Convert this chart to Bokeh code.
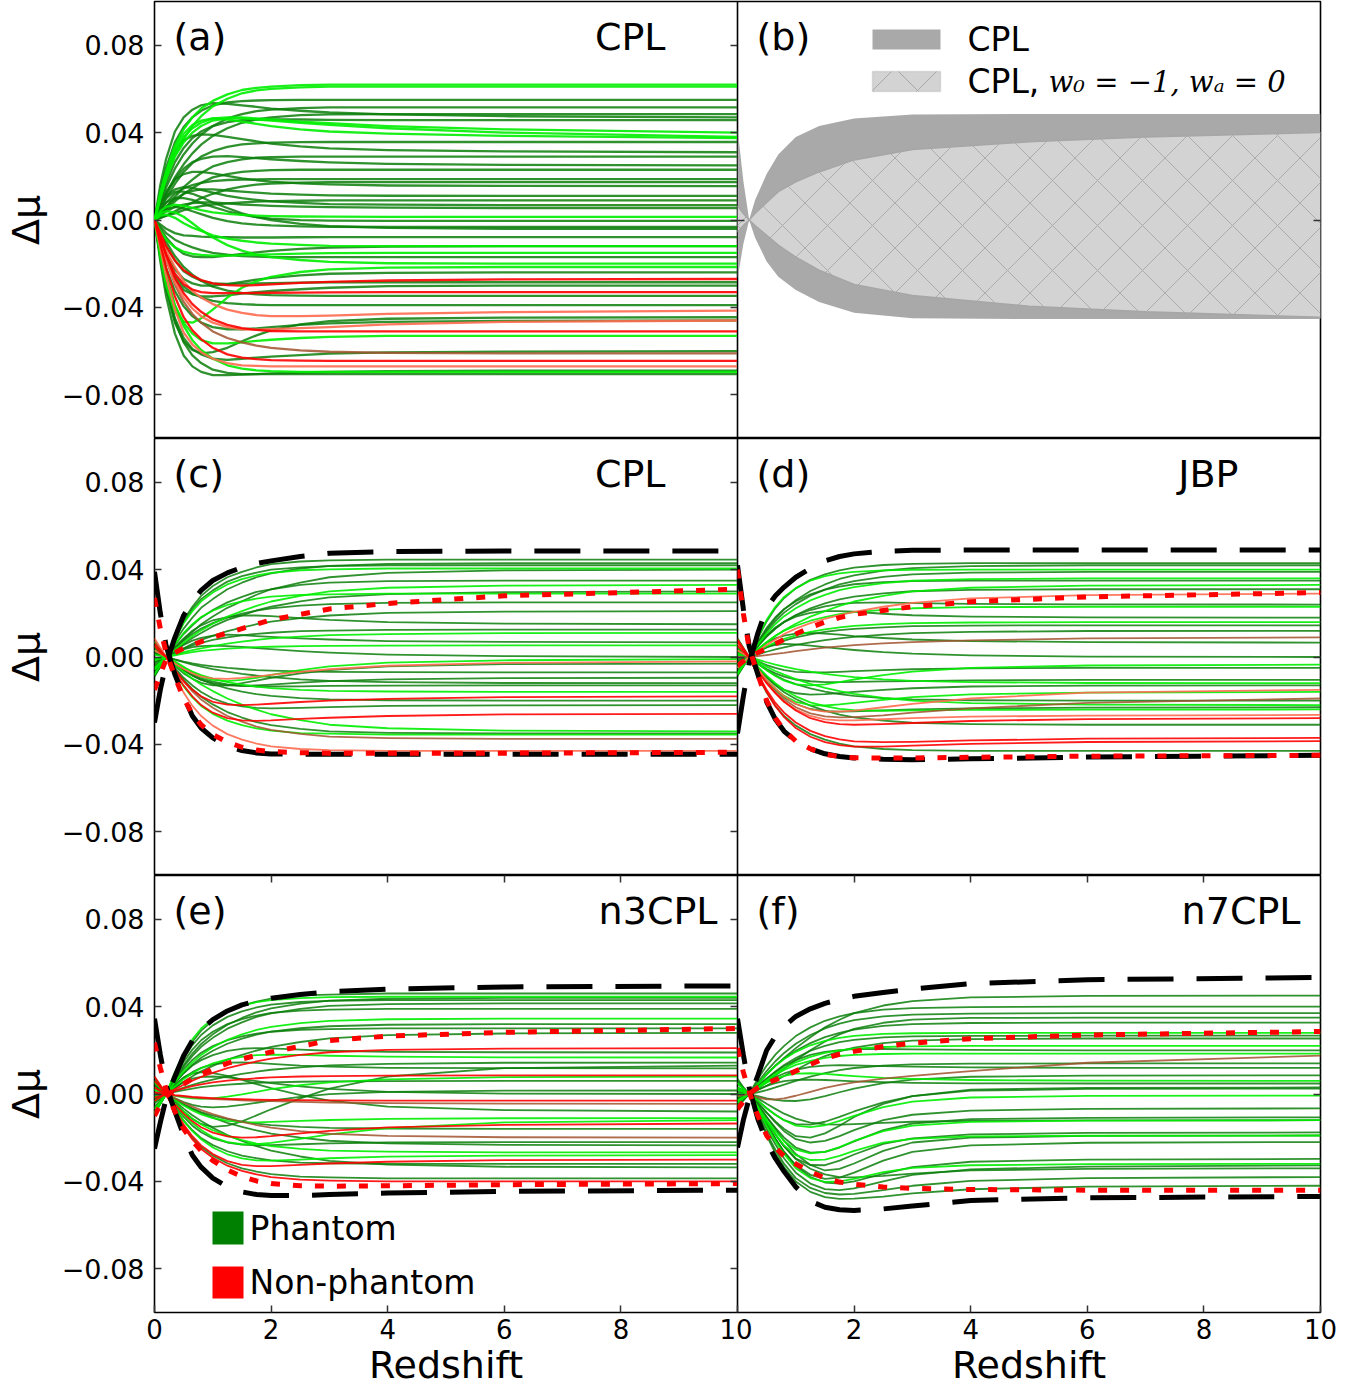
from bokeh.plotting import figure
from bokeh.models import Range1d, LinearAxis, FixedTicker, Label, BoxAnnotation
from bokeh.layouts import column, row
from bokeh.embed import file_html
from bokeh.resources import INLINE

# ---------------------------------------------------------------- data
# redshift sample points of every curve; values are Delta mu in units of 0.001
Z = [0, 0.1, 0.2, 0.35, 0.5, 0.65, 0.8, 1.0, 1.25, 1.5, 1.75, 2.0, 2.5, 3.0, 4.0, 6.0, 10.0]
ZB = [0, 0.1, 0.2, 0.3, 0.5, 0.7, 1.0, 1.4, 2.0, 3.0, 5.0, 7.0, 10.0]

X_TICKS = [0, 2, 4, 6, 8, 10]
Y_TICKS = [-80, -40, 0, 40, 80]
Y_TICK_LABELS = ["\u22120.08", "\u22120.04", "0.00", "0.04", "0.08"]

# panel (a) CPL
PA_LIGHT = [
    [0, 12.5, 22, 34, 41.5, 47, 51, 54.5, 57.5, 59.5, 60.5, 61, 61.7, 62, 62, 62, 62],
    [0, 10, 19, 29.5, 37, 43, 47.5, 52, 55.5, 58, 59.3, 60, 60.7, 61, 61, 61, 61],
    [0, 10, 19, 29, 35.5, 40, 43, 45.5, 46.5, 46.5, 46, 45.5, 44.5, 43.5, 42, 40, 38],
    [0, 11, 21, 31.5, 38, 42, 44.5, 46.5, 47, 47, 46.5, 46, 45, 44.3, 43, 41.5, 40],
    [0, 12, 22, 33, 39.5, 43.5, 45.5, 46.5, 46, 45, 44, 43, 41.5, 40.5, 39.5, 38.5, 37.5],
    [0, 4, 6, 7, 6.5, 5.5, 4.5, 3.5, 2.8, 2.3, 2, 1.8, 1.6, 1.5, 1.4, 1.4, 1.4],
    [0, 2, 2.5, 1, -1.5, -3.5, -5, -7, -8.5, -9.5, -10.3, -10.8, -11.4, -11.8, -12, -12, -12],
    [0, -5, -9, -12.5, -14.5, -15.5, -16, -16.3, -16.3, -16.1, -15.9, -15.7, -15.4, -15.2, -15, -15, -15],
    [0, 3, 4, 3.5, 1.5, -1.5, -4.5, -8, -11.5, -14, -15.8, -17, -18.3, -19.2, -19.8, -20, -20],
    [0, -17, -30, -42, -46.5, -47, -45, -41, -35.5, -31, -28, -26, -23.8, -22.6, -21.8, -21.5, -21.5],
    [0, -14, -26, -39, -47, -52, -55, -56.5, -56.5, -56, -55.3, -54.8, -54, -53.5, -53, -53, -53],
    [0, -13, -25, -39, -48.5, -55, -59.5, -63.5, -66.5, -68, -68.8, -69.2, -69.5, -69.5, -69.5, -69.5, -69.5],
]
PA_DARK = [
    [0, 13, 24, 35.5, 42.5, 47, 50, 52.5, 53.8, 54.4, 54.7, 54.9, 55, 55, 55, 55, 55],
    [0, 16, 28, 40.5, 47, 50.5, 52.5, 53.5, 53.2, 52.5, 51.8, 51, 50, 49.2, 48.3, 47.5, 47],
    [0, 8, 15, 23.5, 30, 35, 39, 43, 46.5, 48.5, 49.8, 50.5, 51.2, 51.5, 51.5, 51.5, 51.5],
    [0, 6, 12, 19.5, 25.5, 30.5, 34.5, 38.5, 42, 44.5, 46, 47, 48, 48.3, 48.5, 48.5, 48.5],
    [0, 9, 17, 26.5, 33, 37.5, 40.5, 43, 44.8, 45.7, 46, 46, 46, 45.8, 45.7, 45.7, 45.7],
    [0, 5, 10, 16.5, 22, 26, 29, 31.5, 33.5, 34.6, 35.1, 35.4, 35.6, 35.7, 35.7, 35.7, 35.7],
    [0, 12, 22, 31.5, 36.5, 38.5, 39.2, 39, 38, 37, 36, 35, 33.7, 32.8, 32, 31.4, 31],
    [0, 3, 6, 10.5, 15, 18.5, 21.5, 24.5, 26.5, 27.8, 28.5, 28.8, 29, 29, 29, 29, 29],
    [0, 6, 12, 18.5, 23.5, 26.5, 28, 29, 29.2, 28.8, 28.3, 27.8, 27, 26.4, 25.7, 25.2, 25],
    [0, 2, 5, 8.5, 12, 14.5, 17, 19.5, 21, 22, 22.5, 22.8, 23, 23, 23, 23, 23],
    [0, 4, 8, 12, 14.5, 16, 17, 17.8, 18.3, 18.5, 18.6, 18.7, 18.7, 18.7, 18.7, 18.7, 18.7],
    [0, 1, 2, 4, 6, 8, 10, 12, 14, 15.3, 16.2, 16.7, 17.1, 17.3, 17.3, 17.3, 17.3],
    [0, 7, 13, 18.5, 21, 22, 22, 21.3, 20.2, 19, 18.2, 17.6, 16.8, 16.3, 15.8, 15.6, 15.5],
    [0, 3, 6, 9.5, 12, 13.3, 14, 14, 13.5, 13, 12.5, 12.1, 11.6, 11.3, 11.1, 11, 11],
    [0, 1, 2, 3, 4.5, 5.5, 6.3, 7, 7.6, 8, 8.4, 8.6, 8.8, 9, 9, 9, 9],
    [0, 7, 11, 14, 15, 14.7, 13.8, 12.5, 11, 10, 9.2, 8.5, 7.8, 7.3, 7, 6.8, 6.8],
    [0, 2, 4, 6, 7, 7.7, 8, 8, 7.6, 7.1, 6.8, 6.5, 6.1, 5.9, 5.7, 5.5, 5.5],
    [0, 5, 8, 10, 10, 9.2, 7.8, 6, 4, 2.5, 1.3, 0.6, -0.1, -0.3, -0.4, -0.4, -0.4],
    [0, 3, 5, 6, 5.3, 4, 2.7, 1, -0.5, -1.5, -2.1, -2.5, -2.9, -3.1, -3.2, -3.2, -3.2],
    [0, 6, 10, 13, 13, 12, 10.5, 8, 5.5, 3, 1.3, 0, -1.8, -2.8, -3.6, -4, -4],
    [0, -2, -4, -6, -7, -7.3, -7.6, -7.8, -7.9, -8, -8, -8, -7.9, -7.8, -7.8, -7.8, -7.8],
    [0, -4, -8, -12.5, -15.5, -16.7, -17, -17, -16.3, -15.5, -14.8, -14.1, -13.2, -12.6, -12.2, -12, -12],
    [0, -3, -6, -9, -11, -12.5, -13.8, -15, -15.9, -16.5, -16.8, -17, -17, -17, -17, -17, -17],
    [0, -8, -15, -22.5, -27, -29, -30, -30, -29.3, -28.3, -27.3, -26.5, -25.3, -24.6, -24.2, -24, -24],
    [0, -6, -12, -18.5, -23.5, -26, -27.8, -29, -29.2, -29.1, -29, -28.9, -28.7, -28.5, -28.5, -28.5, -28.5],
    [0, -10, -18, -27, -32, -34, -35, -35, -34.5, -33.7, -33, -32.5, -31.7, -31, -30.3, -30, -30],
    [0, -5, -10, -16.5, -21.5, -25, -27.8, -30.5, -32.3, -33.4, -34, -34.4, -34.6, -34.7, -34.7, -34.7, -34.7],
    [0, -9, -17, -25.5, -30.5, -33.5, -35.5, -37, -38, -38.5, -38.8, -39, -39, -39, -39, -39, -39],
    [0, -17, -32, -47, -55.5, -59.5, -61, -60.5, -58.5, -55.5, -52.8, -50.5, -47.8, -46.3, -45.2, -44.7, -44.5],
    [0, -12, -22, -32.5, -39.5, -44, -47, -49, -50, -50, -49.6, -49, -48, -47.3, -46.6, -46.2, -46],
    [0, -16, -30, -45, -54, -59, -61.5, -63.5, -64, -63.5, -63, -62.5, -61.8, -61.2, -60.6, -60.2, -60],
    [0, -16, -30, -46, -56, -62, -65.5, -68.5, -70, -70.5, -70.5, -70.5, -70.5, -70.5, -70.5, -70.5, -70.5],
    [0, -19, -35, -52, -62, -67, -69.5, -71, -71, -70.8, -70.5, -70.2, -69.8, -69.5, -69.2, -69, -69],
]
PA_RED = [
    [0, -6, -12, -18.5, -23, -25.5, -27.5, -29, -29.8, -30, -29.8, -29.5, -28.8, -28.3, -27.7, -27.2, -27],
    [0, -8, -16, -24.5, -29.5, -31.8, -33, -33.5, -33.5, -33.5, -33.4, -33.3, -33.2, -33.1, -33, -33, -33],
    [0, -8, -16, -26.5, -33.5, -38.5, -42, -45.5, -48, -49.5, -50.3, -50.8, -51, -51, -51, -51, -51],
    [0, -11, -22, -35, -44.5, -50.5, -54.5, -58.5, -61.5, -63, -63.7, -64.1, -64.4, -64.5, -64.5, -64.5, -64.5],
]
PA_SALMON = [
    [0, -7, -14, -21.5, -28, -32.5, -35.5, -38.5, -41, -42.5, -43.5, -44, -44, -43.8, -43, -42.2, -41.5],
    [0, -13, -26, -41, -51.5, -57, -60.5, -63.5, -65.5, -66.5, -66.8, -67, -67, -67, -67, -67, -67],
    [0, -9, -18, -28.5, -35.5, -40.5, -44, -47, -49, -50, -50.2, -50, -49.5, -49, -47.8, -46.6, -46],
]
PA_BROWN = [
    [0, -9, -18, -29.5, -37.5, -43, -47, -51, -54, -56, -57.5, -58.5, -59.7, -60.3, -60.8, -61, -61],
]

# panel (b) bands
CPL_UP = [-27, -11, 0, 9, 21, 30, 38, 43, 46.5, 48.3, 48.5, 48.5, 48.5]
CPL_LO = [42, 18, 0, -8, -19, -26, -32, -37.5, -42.5, -45, -45.3, -45.3, -45.3]
LCDM_UP = [-5.5, -2.5, 0, 3, 8, 13, 17.5, 22, 27.5, 32.3, 35.8, 38, 40]
LCDM_LO = [6.6, 3, 0, -2.5, -7, -11.5, -17, -23, -29.5, -34.5, -39.5, -42, -44.5]

# panel (c) CPL
PC_DARK = [
    [-9, -4.5, 0, 9, 17, 23, 28, 32.5, 36.5, 39, 41, 42.5, 43.7, 44.2, 44.6, 44.6, 44.6],
    [-8.5, -4.3, 0, 7, 13, 18, 22.5, 26.5, 31, 34, 36.5, 38.3, 40.5, 41.7, 42.6, 43, 43],
    [-8.4, -4.2, 0, 8.5, 16, 22, 26.5, 30.5, 34.5, 37, 38.6, 40, 41, 41.6, 42, 42, 42],
    [-6, -2.8, 0, 4, 8, 11.5, 15, 18.5, 22.5, 25.5, 28.5, 31, 34, 36.5, 38.5, 39.6, 40],
    [-7, -3.5, 0, 5.5, 10.5, 14.5, 18, 21.5, 25, 27.5, 29.8, 31, 33, 34, 34.7, 35, 35],
    [-4.5, -2, 0, 3, 6, 8.7, 11, 14, 17, 19, 21.3, 23, 25.5, 27.3, 28.8, 29.7, 30],
    [-5, -2.5, 0, 4, 7.5, 10.5, 13, 15.5, 18, 19.8, 21.2, 22.3, 23.5, 24.2, 24.8, 25, 25],
    [-3, -1.5, 0, 2, 4, 6, 7.8, 9.7, 11.8, 13.4, 15, 16.2, 17.8, 19, 20.2, 20.8, 21],
    [-4, -2, 0, 4.5, 8.5, 12, 14.5, 16.8, 18.3, 19, 19, 18.7, 17.8, 17, 16, 15.3, 15],
    [-2.5, -1.2, 0, 2, 3.8, 5.3, 6.5, 7.8, 9, 9.9, 10.6, 11.1, 11.8, 12.1, 12.4, 12.5, 12.5],
    [-2, -1, 0, 3, 5.5, 7.5, 8.8, 9.8, 10.2, 10, 9.6, 9.2, 8.5, 8, 7.3, 6.9, 6.7],
    [-1, -0.5, 0, 2, 3.5, 4.5, 5, 5.2, 5, 4.6, 4.1, 3.6, 2.7, 2, 1.1, 0.4, 0],
    [1.4, 0.7, 0, -1.1, -2.1, -2.9, -3.6, -4.3, -5, -5.5, -6, -6.2, -6.6, -6.8, -6.9, -7, -7],
    [3, 1.5, 0, -3, -6, -8.5, -10.5, -12, -13, -13.2, -13, -12.6, -11.7, -11, -10.2, -9.7, -9.5],
    [1.8, 0.8, 0, -1.2, -2.4, -3.5, -4.4, -5.5, -6.7, -7.7, -8.5, -9.2, -10.2, -10.9, -11.5, -11.9, -12],
    [3, 1.5, 0, -3, -5.8, -8, -9.8, -11.3, -12.5, -13.2, -13.5, -13.5, -13.4, -13.2, -13.1, -13, -13],
    [4, 2, 0, -3.2, -6, -8.4, -10.4, -12.4, -14.4, -15.8, -17, -17.8, -18.8, -19.4, -19.8, -20, -20],
    [4.4, 2.2, 0, -5, -9.5, -13, -16, -19, -21.3, -22.6, -23.3, -23.5, -23.3, -22.9, -22.4, -22.1, -22],
    [7, 3.5, 0, -5.6, -10.5, -14.7, -18.2, -21.7, -25.2, -27.7, -29.8, -31.2, -32.9, -34, -34.7, -35, -35],
    [2, 1, 0, -4, -7.5, -10, -11.8, -13, -13, -12, -10.8, -9.5, -7.5, -6, -4.3, -3.3, -3],
]
PC_LIGHT = [
    [-8, -4, 0, 8, 15.4, 21, 25.5, 29.5, 33.2, 35.6, 37.3, 38.5, 39.7, 40.1, 40.5, 40.5, 40.5],
    [-5, -2.3, 0, 3.3, 6.6, 9.6, 12.2, 15.2, 18.5, 21, 23.4, 25.4, 28, 30, 31.7, 32.7, 33],
    [-5.8, -2.9, 0, 5.8, 11, 15, 18.3, 21.2, 23.8, 25.5, 26.7, 27.6, 28.4, 28.7, 29, 29, 29],
    [-1.6, -0.8, 0, 1.1, 2.2, 3.2, 4, 5, 6.1, 7, 7.8, 8.5, 9.3, 10, 10.5, 10.9, 11],
    [-1, -0.5, 0, 0.8, 1.6, 2.2, 2.8, 3.3, 3.8, 4.2, 4.5, 4.7, 5, 5.1, 5.2, 5.3, 5.3],
    [1, 0.5, 0, -2, -4.5, -7, -9, -10.5, -11, -10.5, -9.5, -8.2, -6, -4.3, -2.6, -1.5, -1],
    [5, 2.4, 0, -3.4, -6.8, -9.9, -12.6, -15.6, -19, -21.8, -24.1, -26.2, -28.9, -31, -32.6, -33.7, -34],
    [7, 3.5, 0, -7, -13.5, -18.5, -22.4, -26, -29.1, -31.2, -32.7, -33.7, -34.8, -35.1, -35.5, -35.5, -35.5],
    [3.2, 1.6, 0, -2.6, -4.8, -6.7, -8.3, -9.9, -11.5, -12.6, -13.6, -14.2, -15, -15.5, -15.8, -16, -16],
]
PC_RED = [
    [5, 2, 0, -6, -11, -15, -18, -20.5, -21.8, -22, -21.8, -21.4, -20.6, -20, -19.2, -18.4, -18],
    [6, 3, 0, -7, -13, -18, -22, -25.5, -28, -29, -29.2, -29, -28.3, -27.8, -27, -26.3, -26],
]
PC_SALMON = [
    [3, 1.5, 0, -3, -5.5, -7.5, -9, -9.8, -10, -9.6, -9, -8.2, -6.8, -5.6, -4, -2.7, -2],
    [8.6, 4.3, 0, -8.6, -16.3, -22.4, -27, -31.4, -35.3, -37.8, -39.6, -40.9, -42.1, -42.6, -43, -43, -43],
]
PC_BROWN = [
    [7.5, 3.7, 0, -6, -11.2, -15.7, -19.5, -23.2, -27, -29.6, -31.9, -33.4, -35.2, -36.4, -37.1, -37.5, -37.5],
]
PC_BLACK_UP = [-30, -15, -3, 9, 19, 25.5, 30.5, 35, 38.5, 41, 42.8, 44, 46, 47.5, 48.3, 48.5, 48.5]
PC_BLACK_LO = [39, 20, 5, -8, -18, -27, -32.5, -37, -40.8, -42.8, -43.9, -44.4, -44.5, -44.5, -44.5, -44.5, -44.5]
PC_RED_UP = [-15, -8, -1, 2, 4, 5.5, 7, 9, 11, 13, 15, 17, 19.5, 22, 24.5, 28, 31]
PC_RED_LO = [27, 13, 2, -9, -19, -26, -31, -35.5, -39, -41.3, -42.6, -43.3, -43.8, -44, -44, -44, -43.6]

# panel (d) JBP
PD_DARK = [
    [-8.6, -4.3, 0, 8.6, 16.3, 22.4, 27, 31.4, 35.3, 37.8, 39.6, 40.9, 42.1, 42.6, 43, 43, 43],
    [-8.4, -4.2, 0, 6.7, 12.6, 17.6, 21.8, 26, 30.2, 33.2, 35.7, 37.4, 39.5, 40.7, 41.6, 42, 42],
    [-7.8, -3.9, 0, 6.2, 11.7, 16.4, 20.3, 24.2, 28.1, 30.8, 33.2, 34.7, 36.7, 37.8, 38.6, 39, 39],
    [-7, -3.5, 0, 7, 13.3, 18.2, 22, 25.5, 28.7, 30.8, 32.2, 33.3, 34.3, 34.7, 35, 35, 35],
    [-6.2, -3.1, 0, 5, 9.3, 13, 16.1, 19.2, 22.3, 24.5, 26.4, 27.6, 29.1, 30.1, 30.7, 31, 31],
    [-5, -2.5, 0, 5, 9.5, 13, 16, 19, 21.5, 23.2, 24.2, 24.8, 25, 24.7, 24.3, 24.1, 24],
    [-4, -2, 0, 5.5, 10, 13.5, 16, 18.5, 20.2, 21, 21, 20.7, 19.8, 19.1, 18.5, 18.1, 18],
    [-2.9, -1.5, 0, 2.3, 4.4, 6.1, 7.5, 9, 10.4, 11.5, 12.3, 12.9, 13.6, 14.1, 14.4, 14.5, 14.5],
    [-1.8, -0.8, 0, 1.2, 2.4, 3.5, 4.4, 5.5, 6.7, 7.7, 8.5, 9.2, 10.2, 10.9, 11.5, 11.9, 12],
    [-2, -1, 0, 3.5, 6.5, 8.5, 9.8, 10.7, 11, 10.7, 10.2, 9.6, 8.7, 8, 7.3, 6.8, 6.6],
    [-1, -0.5, 0, 2.5, 4.5, 5.5, 6, 5.8, 5.2, 4.5, 3.8, 3.2, 2.2, 1.5, 0.7, 0.2, 0],
    [1, 0.5, 0, -2, -3.7, -5, -6, -6.8, -7, -7, -6.8, -6.5, -6, -5.6, -5.2, -5, -5],
    [2, 1, 0, -3, -5.5, -7.5, -9, -10.3, -11.1, -11.5, -11.5, -11.4, -11.2, -11, -10.7, -10.5, -10.5],
    [2, 1, 0, -5, -9, -12.5, -15, -16.6, -17.2, -17, -16.5, -16, -15, -14.3, -13.5, -13.1, -13],
    [4, 2, 0, -3.2, -6, -8.4, -10.4, -12.4, -14.4, -15.8, -17, -17.8, -18.8, -19.4, -19.8, -20, -20],
    [4, 2, 0, -6, -11, -15, -18.5, -21.5, -23.8, -24.8, -25, -24.9, -24.4, -24, -23.5, -23.2, -23],
    [6.2, 3.1, 0, -5, -9.3, -13, -16.1, -19.2, -22.3, -24.5, -26.4, -27.6, -29.1, -30.1, -30.7, -31, -31],
    [8.6, 4.3, 0, -8.6, -16.3, -22.4, -27, -31.4, -35.3, -37.8, -39.6, -40.9, -42.1, -42.6, -43, -43, -43],
]
PD_LIGHT = [
    [-8, -4, 0, 9, 17, 23, 27.5, 31.5, 35, 37, 38.3, 39, 39.6, 39.9, 40, 40, 40],
    [-7.2, -3.6, 0, 5.8, 10.8, 15.1, 18.7, 22.3, 25.9, 28.4, 30.6, 32, 33.8, 34.9, 35.6, 36, 36],
    [-5, -2.3, 0, 3.3, 6.6, 9.6, 12.2, 15.2, 18.5, 21, 23.4, 25.4, 28, 30, 31.7, 32.7, 33],
    [-4.6, -2.3, 0, 3.7, 6.9, 9.7, 12, 14.3, 16.6, 18.2, 19.6, 20.5, 21.6, 22.3, 22.8, 23, 23],
    [-3.2, -1.6, 0, 2.6, 4.8, 6.7, 8.3, 9.9, 11.5, 12.6, 13.6, 14.2, 15, 15.5, 15.8, 16, 16],
    [1, 0.5, 0, -3, -6, -8.7, -10.8, -12.5, -13, -12.5, -11.5, -10.3, -8.3, -6.7, -5, -3.9, -3.5],
    [1.8, 0.8, 0, -1.2, -2.4, -3.5, -4.4, -5.5, -6.7, -7.7, -8.5, -9.2, -10.2, -10.9, -11.5, -11.9, -12],
    [3, 1.5, 0, -5.5, -10.5, -14.5, -17.8, -20.5, -22, -22.2, -21.7, -21, -19.6, -18.4, -17.1, -16.3, -16],
    [4.8, 2.4, 0, -4.5, -8.5, -12, -15, -18, -20.8, -22.5, -23.7, -24.3, -24.6, -24.4, -24.2, -24.1, -24],
    [3.3, 1.5, 0, -2.2, -4.4, -6.4, -8.1, -10.1, -12.3, -14.1, -15.6, -16.9, -18.7, -20, -21.1, -21.8, -22],
]
PD_RED = [
    [5, 2.5, 0, -6.5, -12, -16.5, -20.5, -24.5, -28, -29.8, -30.7, -31, -30.7, -30.2, -29.3, -28.4, -28],
    [7, 3.5, 0, -8, -15, -21, -25.5, -30, -33.8, -36.2, -37.7, -38.6, -39, -38.8, -38.2, -37.4, -37],
    [8, 4, 0, -8.5, -16, -22.5, -27.5, -32.5, -36.5, -39, -40.3, -41, -41, -40.6, -39.8, -38.9, -38.5],
]
PD_SALMON = [
    [-5, -2.5, 0, 2.5, 5.5, 8, 10.5, 13, 15.5, 17.5, 19.2, 20.7, 23, 24.8, 26.8, 28.3, 29],
    [3, 1.5, 0, -5.5, -10.5, -14.5, -18, -21.5, -24, -25, -25, -24.5, -23, -21.5, -19, -16.3, -15],
    [6, 3, 0, -6.5, -12, -16.5, -20.5, -24, -27, -28.5, -29, -29, -28.5, -28, -27.3, -26.8, -26.5],
]
PD_BROWN = [
    [0, 0, 0, 0.4, 0.9, 1.4, 1.9, 2.7, 3.5, 4.3, 4.9, 5.4, 6.2, 6.8, 7.6, 8.5, 9],
    [3, 1.5, 0, -6, -11.5, -16, -19.5, -23, -25.8, -27.2, -27.6, -27.5, -26.7, -25.5, -23.5, -21, -19],
]
PD_BLACK_UP = [-35, -18, -3, 11, 22.5, 28, 32, 36.5, 40.5, 44, 46, 47.2, 48.4, 48.8, 49, 49, 49]
PD_BLACK_LO = [42, 22, 5, -8, -20.5, -28.5, -34, -38.5, -42, -44.3, -45.5, -46.2, -46.8, -47, -46.6, -45.8, -45]
PD_RED_UP = [-4, -2, 0, 2, 4, 6, 8, 10.5, 13.5, 16, 18, 19.5, 21.3, 23, 25.3, 27.5, 29.5]
PD_RED_LO = [40, 20, 4, -8, -20, -28, -33.5, -38.5, -42, -44.5, -45.6, -46.1, -46.3, -46.2, -45.9, -45.4, -45]

# panel (e) n3CPL
PE_DARK = [
    [-9.2, -4.6, 0, 9.2, 17.5, 23.9, 29, 33.6, 37.7, 40.5, 42.3, 43.7, 45.1, 45.5, 46, 46, 46],
    [-8.8, -4.4, 0, 7, 13.2, 18.5, 22.9, 27.3, 31.7, 34.8, 37.4, 39.2, 41.4, 42.7, 43.6, 44, 44],
    [-8.6, -4.3, 0, 8.6, 16.3, 22.4, 27, 31.4, 35.3, 37.8, 39.6, 40.9, 42.1, 42.6, 43, 43, 43],
    [-8.3, -4.2, 0, 6.6, 12.5, 17.4, 21.6, 25.7, 29.9, 32.8, 35.3, 36.9, 39, 40.3, 41.1, 41.5, 41.5],
    [-7.8, -3.9, 0, 7.8, 14.8, 20.3, 24.6, 28.5, 32, 34.3, 35.9, 37.1, 38.2, 38.6, 39, 39, 39],
    [-6.4, -3.2, 0, 5.1, 9.6, 13.4, 16.6, 19.8, 23, 25.3, 27.2, 28.5, 30.1, 31, 31.7, 32, 32],
    [-6, -3, 0, 6, 11.4, 15.6, 18.9, 21.9, 24.6, 26.4, 27.6, 28.5, 29.4, 29.7, 30, 30, 30],
    [-4.2, -2, 0, 2.8, 5.6, 8.1, 10.4, 12.9, 15.7, 17.9, 19.9, 21.6, 23.8, 25.5, 26.9, 27.7, 28],
    [-4, -2, 0, 5, 9.5, 13, 15.5, 17.8, 19.7, 20.7, 21, 20.9, 20.3, 19.8, 19.3, 19.1, 19],
    [-2.2, -1, 0, 1.4, 2.9, 4.2, 5.3, 6.6, 8.1, 9.2, 10.2, 11.1, 12.2, 13.1, 13.8, 14.3, 14.4],
    [-2, -1, 0, 4, 7.5, 10, 12, 13.6, 14.4, 14.5, 14.2, 13.8, 13, 12.5, 12, 11.8, 11.7],
    [-1.2, -0.6, 0, 1, 1.8, 2.5, 3.1, 3.7, 4.3, 4.7, 5.1, 5.3, 5.6, 5.8, 5.9, 6, 6],
    [0, 0, 0, -2, -3.7, -5, -5.8, -6.1, -5.8, -5, -4, -3, -1.3, -0.1, 1, 1.5, 1.6],
    [0, 0, 0, 3, 5.5, 7, 7.8, 8, 7.6, 6.8, 5.9, 5, 3.5, 2.3, 1, 0.2, 0],
    [3.2, 1.6, 0, -2.6, -4.8, -6.7, -8.3, -9.9, -11.5, -12.6, -13.6, -14.2, -15, -15.5, -15.8, -16, -16],
    [4.4, 2.2, 0, -5.5, -10.5, -14.5, -17.5, -20.3, -22.2, -23.2, -23.5, -23.4, -23, -22.6, -22.2, -22, -22],
    [3.5, 1.6, 0, -2.4, -4.7, -6.8, -8.7, -10.8, -13.2, -15, -16.7, -18.1, -20, -21.4, -22.6, -23.3, -23.5],
    [6.4, 3.2, 0, -6.4, -12.2, -16.6, -20.2, -23.4, -26.2, -28.2, -29.4, -30.4, -31.4, -31.7, -32, -32, -32],
    [5, 2.4, 0, -3.4, -6.7, -9.7, -12.4, -15.5, -18.8, -21.5, -23.9, -25.9, -28.6, -30.6, -32.3, -33.3, -33.6],
    [7.7, 3.9, 0, -7.7, -14.7, -20.1, -24.3, -28.2, -31.7, -34, -35.5, -36.7, -37.8, -38.2, -38.6, -38.6, -38.6],
    [-2, -1, 0, 4, 7.5, 9.3, 10, 9.6, 8.3, 6.5, 4.5, 2.7, -0.5, -3, -5.8, -7.4, -8],
    [2, 1, 0, -4, -8, -11.5, -13.7, -15, -14.5, -12.5, -9.8, -7, -2, 2.5, 8, 11.8, 13],
]
PE_LIGHT = [
    [-8.9, -4.5, 0, 10, 18.5, 25, 30, 34.5, 38.2, 40.5, 42, 43, 43.9, 44.3, 44.5, 44.5, 44.5],
    [-6.9, -3.5, 0, 5.5, 10.4, 14.5, 17.9, 21.4, 24.8, 27.3, 29.3, 30.7, 32.4, 33.5, 34.2, 34.5, 34.5],
    [-3.3, -1.7, 0, 3.5, 6.8, 9.5, 11.8, 14, 15.8, 17, 17.8, 18, 17.9, 17.5, 17.1, 16.8, 16.7],
    [2, 1, 0, -2.8, -5.3, -7.5, -9.3, -11, -12.3, -12.9, -13, -12.8, -12.3, -11.9, -11.4, -11.1, -11],
    [5.3, 2.7, 0, -4.3, -8, -11.2, -13.9, -16.6, -19.2, -21.1, -22.7, -23.8, -25.1, -25.9, -26.4, -26.7, -26.7],
    [5.6, 2.8, 0, -6.5, -12.3, -17, -20.7, -24.5, -27.6, -29.5, -30.4, -30.5, -30, -29.4, -28.7, -28.2, -28],
    [2, 1, 0, -5, -9.5, -13.3, -16.5, -19.7, -22, -23, -23, -22.4, -20.5, -18.5, -15.6, -13, -12],
    [-1, -0.5, 0, -0.8, -1.5, -2, -2.2, -2, -1.2, -0.2, 1, 2.2, 4, 5.3, 6.7, 7.7, 8],
]
PE_RED = [
    [-3.2, -1.5, 0, 2.1, 4.2, 6.1, 7.8, 9.7, 11.8, 13.4, 14.9, 16.2, 17.9, 19.1, 20.2, 20.8, 21],
    [-1.7, -0.9, 0, 1.4, 2.6, 3.6, 4.4, 5.3, 6.1, 6.7, 7.2, 7.6, 8, 8.2, 8.4, 8.5, 8.5],
    [0.6, 0.3, 0, -0.5, -0.9, -1.3, -1.6, -1.9, -2.2, -2.4, -2.6, -2.7, -2.8, -2.9, -3, -3, -3],
    [3, 1.5, 0, -4.8, -9, -12.5, -15.2, -17.7, -19.4, -20, -19.8, -19.3, -18, -16.9, -15.3, -14.1, -13.5],
    [6, 3, 0, -7.5, -14, -19.3, -23.5, -27.5, -30.7, -32.4, -33, -33, -32.4, -31.8, -31, -30.3, -30],
    [8, 4, 0, -8, -15.2, -20.8, -25.2, -29.2, -32.8, -35.2, -36.8, -38, -39.2, -39.6, -40, -40, -40],
]
PE_BROWN = [
    [0.9, 0.5, 0, -0.7, -1.2, -1.6, -1.9, -2.3, -2.6, -2.9, -3.1, -3.3, -3.6, -3.9, -4.2, -4.4, -4.5],
    [3, 1.4, 0, -2, -4, -5.8, -7.4, -9.2, -11.2, -12.8, -14.2, -15.4, -17, -18.2, -19.2, -19.8, -20],
]
PE_BLACK_UP = [-25, -13, -2, 8, 17.5, 24.5, 29.5, 34, 38, 40.8, 42.5, 43.8, 45.5, 46.8, 48, 49, 49.5]
PE_BLACK_LO = [34.5, 18, 4, -8, -19, -28, -33.5, -38.5, -42.5, -44.8, -46, -46.5, -46.5, -46, -45.3, -44.6, -44]
PE_RED_UP = [-10, -5, -1, 2, 4.5, 7, 9, 11.5, 14, 16, 17.7, 19.2, 21.8, 24.5, 26.5, 28.2, 30]
PE_RED_LO = [23.5, 12, 2, -8, -16, -21.5, -26, -30.5, -34.8, -37.8, -39.8, -41, -42, -42.2, -42, -41.5, -41]

# panel (f) n7CPL
PF_DARK = [
    [-5, -2.5, 0, 4.5, 9, 13, 16.5, 21, 26, 30.5, 34, 37, 40.5, 42.5, 44.2, 44.9, 45],
    [-6, -3, 0, 7, 13, 18, 22, 26.5, 30.5, 33.5, 35.5, 37, 38.6, 39.3, 39.8, 40, 40],
    [-5, -2.5, 0, 5.5, 10.5, 15, 18.8, 23, 27, 30, 32.2, 33.8, 35.5, 36.3, 36.8, 37, 37],
    [-4, -2, 0, 2.5, 5.5, 8.5, 11.5, 15.5, 20, 24, 27.3, 29.8, 32.6, 34, 34.8, 35, 35],
    [-5, -2.5, 0, 4.5, 9, 13, 16.3, 19.8, 23.3, 26, 28, 29.5, 31.2, 32, 32.5, 32.7, 32.7],
    [-4, -2, 0, 3.5, 7, 10.3, 13.3, 16.5, 19.8, 22, 23.7, 24.8, 25.9, 26.4, 26.6, 26.7, 26.7],
    [-3, -1.5, 0, 1.8, 3.8, 6, 8.2, 11, 14.5, 17.3, 19.5, 21.2, 23.3, 24.4, 25.1, 25.4, 25.4],
    [-3, -1.5, 0, 3.5, 7, 10, 12.7, 15.5, 17.9, 19.3, 20.1, 20.5, 20.6, 20.4, 20.2, 20, 20],
    [-2, -1, 0, 0.8, 1.8, 3, 4.3, 6, 8, 9.6, 10.9, 11.9, 13, 13.6, 13.9, 14, 14],
    [-2, -1, 0, 2.8, 5.5, 7.7, 9.4, 11.1, 12.4, 13, 13.2, 13.1, 12.8, 12.5, 12.2, 12, 12],
    [-1, -0.5, 0, -1, -2, -2.7, -3.1, -3.2, -2.5, -1, 0.8, 2.5, 5, 6.6, 7.9, 8.4, 8.5],
    [-1, -0.5, 0, 2, 3.7, 5, 5.9, 6.5, 6.6, 6.4, 6.1, 5.8, 5.4, 5.1, 4.9, 4.8, 4.8],
    [0, 0, 0, -3, -6.5, -9.5, -12, -13.8, -14, -12.7, -10.5, -8, -3.8, -1, 1.5, 2.3, 2.5],
    [0, 0, 0, -4, -8.5, -12.5, -16, -19.3, -20, -18, -14.5, -10.5, -4.5, -1, 2, 2.8, 3],
    [1, 0.5, 0, -4, -8.5, -13, -17, -20.7, -22.2, -21.5, -19.3, -16.5, -12, -9.5, -7.6, -6.8, -6.6],
    [2, 1, 0, -5, -10.5, -15.5, -20, -24.5, -26.8, -26.5, -24.5, -21.7, -16.5, -13.5, -11.5, -10.9, -10.7],
    [2, 1, 0, -2, -4.5, -6.8, -9, -11.3, -13.1, -13.9, -14, -13.8, -13.2, -12.7, -12.3, -12.1, -12],
    [3, 1.5, 0, -6, -12.5, -18.5, -24, -29.5, -32.5, -32.6, -30.5, -27.7, -22.8, -20.3, -18.5, -17.8, -17.6],
    [3, 1.5, 0, -5, -10.5, -16, -21.5, -27.5, -32.5, -35, -34.3, -31.8, -26, -22.2, -20, -19.2, -19],
    [3, 1.5, 0, -7, -14, -20.5, -26.5, -32.5, -37, -38.8, -38.3, -36, -30.5, -26.5, -23.5, -22.3, -22],
    [5, 2.5, 0, -7, -14, -20.5, -26.5, -33, -38, -40.5, -41, -40, -36.5, -33.5, -31, -30, -29.7],
    [5, 2.5, 0, -8, -16, -23, -29.5, -36, -41, -43.5, -44, -43.2, -40, -37, -34.5, -33.2, -32.7],
    [5, 2.5, 0, -6, -12.5, -18.5, -24, -29.8, -34.2, -36.8, -38, -38.2, -37.5, -36.4, -35, -34.3, -34],
    [6, 3, 0, -9, -18, -25.5, -32, -38.5, -43, -45.3, -46, -45.7, -44, -42, -39.8, -38.5, -38],
    [7, 3, 0, -9, -19, -27, -33.5, -40, -44.8, -47.2, -48, -47.9, -47, -45.5, -43.6, -42.4, -42],
]
PF_LIGHT = [
    [-4, -2, 0, 4.5, 9, 12.8, 16, 19.3, 22.3, 24.3, 25.7, 26.6, 27.5, 27.8, 28, 28, 28],
    [-3, -1.5, 0, 3, 6.3, 9.2, 11.8, 14.5, 17, 18.8, 20, 20.8, 21.5, 21.8, 22, 22, 22],
    [-3, -1.5, 0, 2.8, 6, 8.8, 11, 13.3, 15.2, 16.5, 17.4, 17.9, 18.3, 18.5, 18.5, 18.5, 18.5],
    [-1, -0.5, 0, 2.8, 5.2, 7, 8.3, 9.3, 9.5, 9.2, 8.7, 8.2, 7.4, 6.9, 6.4, 6.1, 6],
    [0, 0, 0, -3, -6.5, -9.5, -12, -14.5, -15.2, -14.3, -12.3, -10, -6, -3.5, -1.6, -0.9, -0.7],
    [2, 1, 0, -6, -12, -17, -21.5, -25.5, -27.2, -26.5, -24.3, -21.5, -17, -14.5, -12.8, -12.2, -12],
    [3, 1.5, 0, -6, -12.5, -18.5, -23.5, -28, -30.2, -30, -28.3, -26, -22.3, -20.5, -19.4, -19.1, -19],
    [5, 2.5, 0, -7, -14.5, -21.5, -27.5, -34, -38.5, -40.2, -40, -38.8, -35.8, -33.8, -32.6, -32.1, -32],
]
PF_BROWN = [
    [-1, -0.5, 0, -1.5, -2.5, -2.5, -2, -0.8, 1, 2.8, 4.2, 5.3, 7, 8.3, 10.5, 14.3, 17.6],
]
PF_BLACK_UP = [-24.5, -12, -2, 8.5, 20, 26.5, 31, 35.5, 39, 41.5, 43.3, 44.7, 46.5, 48, 50.5, 52.3, 53.3]
PF_BLACK_LO = [34.5, 18, 3, -11.5, -22, -29.5, -35.5, -42.5, -49, -51.8, -53, -53.3, -52.6, -51.3, -48.7, -47.5, -46.9]
PF_RED_UP = [-7, -3.5, 0, 3, 5, 6.5, 8, 10.5, 13.5, 16.3, 18.2, 19.5, 21.7, 23.3, 25.3, 27, 28.6]
PF_RED_LO = [21, 10, 1, -10, -19, -24.5, -28.5, -32, -35.5, -38.5, -40.3, -41.3, -42.6, -43.2, -43.7, -44, -44]

# ---------------------------------------------------------------- style
FONT = "DejaVu Sans"
FRAME_W, FRAME_H = 583, 437
DARK, LIGHT, RED, SALMON, BROWN = "#0a7f0a", "#00ee00", "#ff0000", "#ff6a50", "#a0522d"
TICK_COLOR = "#333333"


def make_panel(left, top, bottom):
    p = figure(frame_width=FRAME_W, frame_height=FRAME_H,
               x_range=Range1d(0, 10), y_range=Range1d(-100, 100),
               x_axis_location=None, y_axis_location=None,
               output_backend="svg", toolbar_location=None,
               min_border_left=146 if left else 0,
               min_border_right=15 if left else 28,
               min_border_top=1 if top else 0,
               min_border_bottom=78 if bottom else 0)
    if not left:
        p.margin = (0, 0, 0, -15)
        p.border_fill_alpha = 0
    p.grid.grid_line_color = None
    p.outline_line_color = "black"
    p.outline_line_width = 1.6
    p.outline_line_alpha = 1
    ticks = Y_TICKS if left else [0]
    for side in ("left", "right"):
        ax = LinearAxis(ticker=FixedTicker(ticks=ticks), axis_line_color=None,
                        major_tick_in=7, major_tick_out=0,
                        major_tick_line_color=TICK_COLOR, major_tick_line_width=1.5,
                        minor_tick_line_color=None)
        if left and side == "left":
            ax.major_label_overrides = dict(zip(Y_TICKS, Y_TICK_LABELS))
            ax.major_label_text_font = FONT
            ax.major_label_text_font_size = "27px"
            ax.major_label_text_color = "black"
            ax.major_label_standoff = 10
            ax.axis_label = "\u0394\u03bc"
            ax.axis_label_text_font = FONT
            ax.axis_label_text_font_size = "38px"
            ax.axis_label_text_font_style = "normal"
            ax.axis_label_text_color = "black"
            ax.axis_label_standoff = 11
        else:
            ax.major_label_overrides = {t: "" for t in ticks}
            ax.major_label_text_font_size = "0px"
            ax.major_label_standoff = 0
        p.add_layout(ax, side)
    if bottom:
        bx = LinearAxis(ticker=FixedTicker(ticks=X_TICKS), axis_line_color=None,
                        major_tick_in=7, major_tick_out=0,
                        major_tick_line_color=TICK_COLOR, major_tick_line_width=1.5,
                        minor_tick_line_color=None,
                        major_label_text_font=FONT, major_label_text_font_size="26px",
                        major_label_text_color="black", major_label_standoff=6,
                        axis_label="Redshift", axis_label_text_font=FONT,
                        axis_label_text_font_size="38px", axis_label_text_color="black",
                        axis_label_text_font_style="normal", axis_label_standoff=1)
        if not left:
            bx.major_label_overrides = {0: ""}
        p.add_layout(bx, "below")
        tx = LinearAxis(ticker=FixedTicker(ticks=X_TICKS[1:-1]), axis_line_color=None,
                        major_tick_in=7, major_tick_out=0,
                        major_tick_line_color=TICK_COLOR, major_tick_line_width=1.5,
                        minor_tick_line_color=None,
                        major_label_overrides={t: "" for t in X_TICKS[1:-1]},
                        major_label_text_font_size="0px", major_label_standoff=0)
        p.add_layout(tx, "above")
    return p


def tag(p, text, x, align="left", size="38px"):
    p.add_layout(Label(x=x, y=FRAME_H - 35, x_units="screen", y_units="screen",
                       text=text, text_font=FONT, text_font_size=size,
                       text_baseline="middle", text_align=align, text_color="black"))


def draw_curves(p, groups, width):
    for ys, color, alpha in groups:
        p.multi_line(xs=[Z] * len(ys), ys=ys, line_color=color, line_width=width,
                     line_alpha=alpha, line_join="round")


def draw_env(p, bu, bl, ru, rl):
    for ys in (bu, bl):
        p.line(Z, ys, line_color="black", line_width=5, line_dash="46 23", line_cap="butt")
    for ys in (ru, rl):
        p.line(Z, ys, line_color=RED, line_width=5, line_dash="9 13", line_cap="butt")


def sbox(p, l, r, t, b, **kw):
    p.add_layout(BoxAnnotation(left=l, right=r, top=t, bottom=b,
                               left_units="screen", right_units="screen",
                               top_units="screen", bottom_units="screen", **kw))


def text(p, x, y, s, size="33px", font=FONT, style="normal"):
    p.add_layout(Label(x=x, y=y, x_units="screen", y_units="screen", text=s,
                       text_font=font, text_font_size=size, text_font_style=style,
                       text_baseline="middle", text_color="black"))


# ---------------------------------------------------------------- panels
pa = make_panel(True, True, False)
draw_curves(pa, [(PA_DARK, DARK, 0.85), (PA_LIGHT, LIGHT, 0.9), (PA_BROWN, BROWN, 0.85),
                 (PA_SALMON, SALMON, 0.9), (PA_RED, RED, 0.9)], 2.3)
tag(pa, "(a)", 19)
tag(pa, "CPL", 511, "right")

pb = make_panel(False, True, False)
pb.varea(x=ZB, y1=CPL_LO, y2=CPL_UP, fill_color="#a9a9a9", fill_alpha=1)
pb.varea(x=ZB, y1=LCDM_LO, y2=LCDM_UP, fill_color="#d3d3d3", fill_alpha=1,
         hatch_pattern="diagonal_cross", hatch_color="#9a9a9a", hatch_scale=45,
         hatch_weight=0.8, hatch_alpha=0.9)
pb.line(ZB, LCDM_UP, line_color="#a6a6a6", line_width=1.5)
pb.line(ZB, LCDM_LO, line_color="#a6a6a6", line_width=1.5)
tag(pb, "(b)", 19)
sbox(pb, 135, 203, 409, 389, fill_color="#a9a9a9", fill_alpha=1, line_color=None)
sbox(pb, 135, 203, 367, 347, fill_color="#d3d3d3", fill_alpha=1, line_color="#a6a6a6",
     line_width=1.5, hatch_pattern="diagonal_cross", hatch_color="#9a9a9a",
     hatch_scale=45, hatch_weight=0.8)
text(pb, 230, 399, "CPL")
text(pb, 230, 357, "CPL,")
text(pb, 311, 357, "w\u2080 = \u22121, w\u2090 = 0", size="29px", font="DejaVu Serif", style="italic")

pc = make_panel(True, False, False)
draw_curves(pc, [(PC_DARK, DARK, 0.85), (PC_LIGHT, LIGHT, 0.9), (PC_BROWN, BROWN, 0.85),
                 (PC_SALMON, SALMON, 0.9), (PC_RED, RED, 0.9)], 1.8)
draw_env(pc, PC_BLACK_UP, PC_BLACK_LO, PC_RED_UP, PC_RED_LO)
tag(pc, "(c)", 19)
tag(pc, "CPL", 511, "right")

pd = make_panel(False, False, False)
draw_curves(pd, [(PD_DARK, DARK, 0.85), (PD_LIGHT, LIGHT, 0.9), (PD_BROWN, BROWN, 0.85),
                 (PD_SALMON, SALMON, 0.9), (PD_RED, RED, 0.9)], 1.8)
draw_env(pd, PD_BLACK_UP, PD_BLACK_LO, PD_RED_UP, PD_RED_LO)
tag(pd, "(d)", 19)
tag(pd, "JBP", 501, "right")

pe = make_panel(True, False, True)
draw_curves(pe, [(PE_DARK, DARK, 0.85), (PE_LIGHT, LIGHT, 0.9), (PE_BROWN, BROWN, 0.85),
                 (PE_RED, RED, 0.9)], 1.8)
draw_env(pe, PE_BLACK_UP, PE_BLACK_LO, PE_RED_UP, PE_RED_LO)
tag(pe, "(e)", 19)
tag(pe, "n3CPL", 563, "right")
sbox(pe, 58, 89, 101, 68, fill_color="#008000", fill_alpha=1, line_color=None)
sbox(pe, 58, 89, 46, 14, fill_color="#ff0000", fill_alpha=1, line_color=None)
text(pe, 95, 84, "Phantom")
text(pe, 95, 30, "Non-phantom")

pf = make_panel(False, False, True)
draw_curves(pf, [(PF_DARK, DARK, 0.85), (PF_LIGHT, LIGHT, 0.9), (PF_BROWN, BROWN, 0.85)], 1.8)
draw_env(pf, PF_BLACK_UP, PF_BLACK_LO, PF_RED_UP, PF_RED_LO)
tag(pf, "(f)", 19)
tag(pf, "n7CPL", 563, "right")

layout = column(row(pa, pb), row(pc, pd), row(pe, pf))
open("out.html", "w").write(file_html(layout, INLINE))
